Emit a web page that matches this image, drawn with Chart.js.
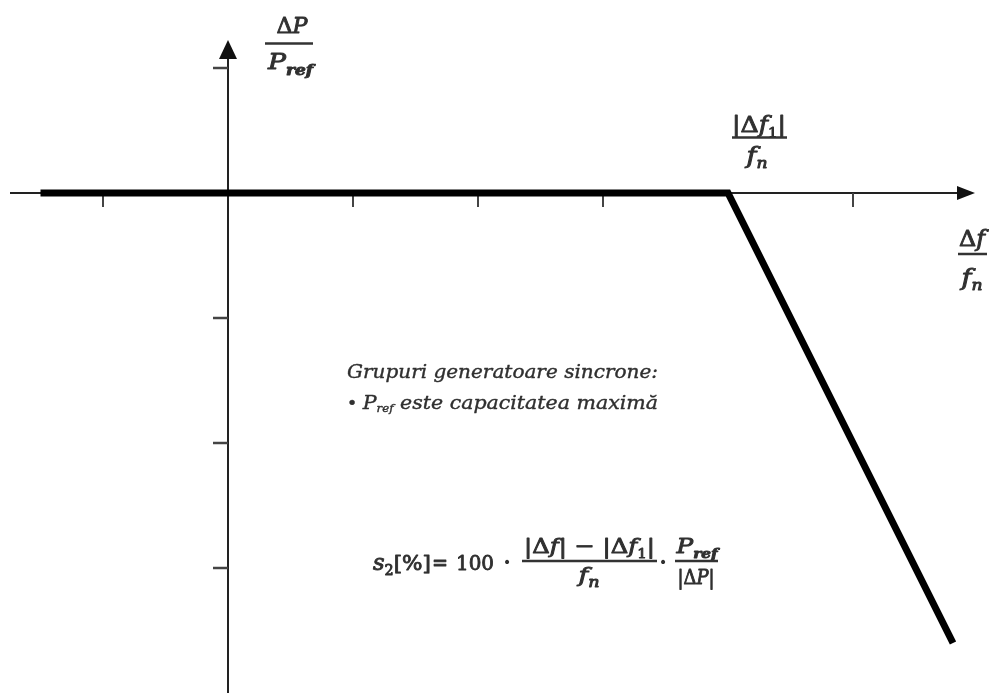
<!DOCTYPE html>
<html>
<head>
<meta charset="utf-8">
<script src="https://cdn.jsdelivr.net/npm/chart.js@4/dist/chart.umd.min.js"></script>
<style>
  html, body { margin: 0; padding: 0; background: #fff; }
  #wrap { width: 993px; height: 693px; }
</style>
</head>
<body>
<div id="wrap"><canvas id="droopChart" width="993" height="693"></canvas></div>
<script>
// droop characteristic, one unit = one tick step
const droopX = [-1.5, 4, 5.8];
const droopY = [0, 0, -3.6];
const xTicks = [-1, 1, 2, 3, 5];
const yTicks = [1, -1, -2, -3];

const SERIF = '"DejaVu Serif", "Liberation Serif", serif';
const INK = '#303030';
const it = s => 'italic ' + s + 'px ' + SERIF;
const up = s => s + 'px ' + SERIF;

// draw a row of text runs, squeezed to a target width if given;
// heavy > 0 adds an outline to thicken the glyphs a little
function drawRuns(ctx, runs, x, y, align, width, heavy) {
  let total = 0;
  const ws = runs.map(r => { ctx.font = r.f; const w = ctx.measureText(r.t).width; total += w; return w; });
  const sx = width ? width / total : 1;
  const x0 = align === 'center' ? x - total * sx / 2 : x;
  ctx.save();
  ctx.translate(x0, y);
  ctx.scale(sx, 1);
  ctx.fillStyle = INK;
  ctx.strokeStyle = INK;
  ctx.lineWidth = heavy || 0;
  ctx.lineJoin = 'round';
  ctx.textBaseline = 'alphabetic';
  ctx.textAlign = 'left';
  let cx = 0;
  runs.forEach((r, i) => {
    ctx.font = r.f;
    ctx.fillText(r.t, cx, r.dy || 0);
    if (heavy) ctx.strokeText(r.t, cx, r.dy || 0);
    cx += ws[i];
  });
  ctx.restore();
}

function bar(ctx, x1, x2, y) {
  ctx.save();
  ctx.strokeStyle = '#333';
  ctx.lineWidth = 2.5;
  ctx.beginPath();
  ctx.moveTo(x1, y);
  ctx.lineTo(x2, y);
  ctx.stroke();
  ctx.restore();
}

const axesPlugin = {
  id: 'axes',
  beforeDatasetsDraw(chart) {
    const { ctx, scales: { x, y } } = chart;
    const ox = x.getPixelForValue(0), oy = y.getPixelForValue(0);
    ctx.save();
    ctx.strokeStyle = '#222';
    ctx.fillStyle = '#111';
    ctx.lineWidth = 2;
    // horizontal axis
    ctx.beginPath();
    ctx.moveTo(10, oy);
    ctx.lineTo(962, oy);
    ctx.stroke();
    ctx.beginPath();
    ctx.moveTo(975, oy);
    ctx.lineTo(957, oy - 7);
    ctx.lineTo(957, oy + 7);
    ctx.closePath();
    ctx.fill();
    // vertical axis
    ctx.beginPath();
    ctx.moveTo(ox, 693);
    ctx.lineTo(ox, 54);
    ctx.stroke();
    ctx.beginPath();
    ctx.moveTo(ox, 40);
    ctx.lineTo(ox - 9, 59);
    ctx.lineTo(ox + 9, 59);
    ctx.closePath();
    ctx.fill();
    // ticks
    ctx.strokeStyle = '#444';
    ctx.lineWidth = 2;
    xTicks.forEach(v => {
      const px = Math.round(x.getPixelForValue(v));
      ctx.beginPath();
      ctx.moveTo(px, oy);
      ctx.lineTo(px, oy + 14);
      ctx.stroke();
    });
    ctx.lineWidth = 2.5;
    yTicks.forEach(v => {
      const py = Math.round(y.getPixelForValue(v));
      ctx.beginPath();
      ctx.moveTo(ox - 15, py);
      ctx.lineTo(ox, py);
      ctx.stroke();
    });
    ctx.restore();
  }
};

const labelsPlugin = {
  id: 'labels',
  afterDraw(chart) {
    const ctx = chart.ctx;
    const H = 0.9;
    // dP / Pref
    drawRuns(ctx, [{ t: 'Δ', f: up(22) }, { t: 'P', f: it(22) }], 292, 33, 'center', 31, H);
    bar(ctx, 265, 313, 43.5);
    drawRuns(ctx, [{ t: 'P', f: it(22) }, { t: 'ref', f: 'italic bold 14px ' + SERIF, dy: 6 }], 268, 69, 'left', 45, H);
    // |df1| / fn
    drawRuns(ctx, [{ t: '|Δ', f: up(22) }, { t: 'f', f: it(22) }, { t: '1', f: up(13), dy: 5 }, { t: '|', f: up(22) }], 759, 132, 'center', 54, H);
    bar(ctx, 732, 787, 137.5);
    drawRuns(ctx, [{ t: 'f', f: it(22) }, { t: 'n', f: it(14), dy: 5 }], 757, 163, 'center', 21, H);
    // df / fn
    drawRuns(ctx, [{ t: 'Δ', f: up(22) }, { t: 'f', f: it(22) }], 972, 246, 'center', 26, H);
    bar(ctx, 958, 987, 254);
    drawRuns(ctx, [{ t: 'f', f: it(22) }, { t: 'n', f: it(14), dy: 5 }], 972, 285, 'center', 21, H);

    // note
    drawRuns(ctx, [{ t: 'Grupuri generatoare sincrone:', f: it(19) }], 347, 378, 'left', 311, 0.4);
    drawRuns(ctx, [
      { t: '• ', f: up(16) },
      { t: 'P', f: it(19) },
      { t: 'ref', f: it(11), dy: 3 },
      { t: ' este capacitatea maximă', f: it(19) }
    ], 347, 409, 'left', 311, 0.4);

    // s2 formula
    drawRuns(ctx, [{ t: 's', f: it(22) }, { t: '2', f: up(14), dy: 5 }, { t: '[%]', f: up(21) }], 373, 570, 'left', 58, H);
    drawRuns(ctx, [{ t: '=', f: up(22) }], 440, 570, 'center', 16, H);
    drawRuns(ctx, [{ t: '100', f: up(21) }], 456, 570, 'left', 38, H);
    drawRuns(ctx, [{ t: '·', f: 'bold 22px ' + SERIF }], 507, 570, 'center');
    drawRuns(ctx, [
      { t: '|Δ', f: up(21) }, { t: 'f', f: it(21) }, { t: '| − |Δ', f: up(21) },
      { t: 'f', f: it(21) }, { t: '1', f: up(13), dy: 5 }, { t: '|', f: up(21) }
    ], 524, 553, 'left', 131, H);
    bar(ctx, 522, 657, 561);
    drawRuns(ctx, [{ t: 'f', f: it(21) }, { t: 'n', f: it(14), dy: 5 }], 589, 582, 'center', 21, H);
    drawRuns(ctx, [{ t: '·', f: 'bold 22px ' + SERIF }], 663, 570, 'center');
    drawRuns(ctx, [{ t: 'P', f: it(21) }, { t: 'ref', f: 'italic bold 13px ' + SERIF, dy: 5 }], 697, 553, 'center', 41, H);
    bar(ctx, 675, 718, 561);
    drawRuns(ctx, [{ t: '|Δ', f: up(21) }, { t: 'P', f: it(21) }, { t: '|', f: up(21) }], 696, 584, 'center', 37, H);
  }
};

const ctx = document.getElementById('droopChart');
new Chart(ctx, {
  type: 'scatter',
  data: {
    datasets: [{
      data: droopX.map((x, i) => ({ x: x, y: droopY[i] })),
      showLine: true,
      borderColor: '#000',
      borderWidth: 7,
      borderJoinStyle: 'miter',
      borderCapStyle: 'butt',
      pointRadius: 0,
      tension: 0,
      clip: false
    }]
  },
  options: {
    responsive: false,
    animation: false,
    events: [],
    layout: { padding: 0 },
    plugins: { legend: { display: false }, tooltip: { enabled: false } },
    scales: {
      x: { type: 'linear', min: -1.824, max: 6.12, display: false },
      y: { type: 'linear', min: -4, max: 1.544, display: false }
    }
  },
  plugins: [axesPlugin, labelsPlugin]
});
</script>
</body>
</html>
